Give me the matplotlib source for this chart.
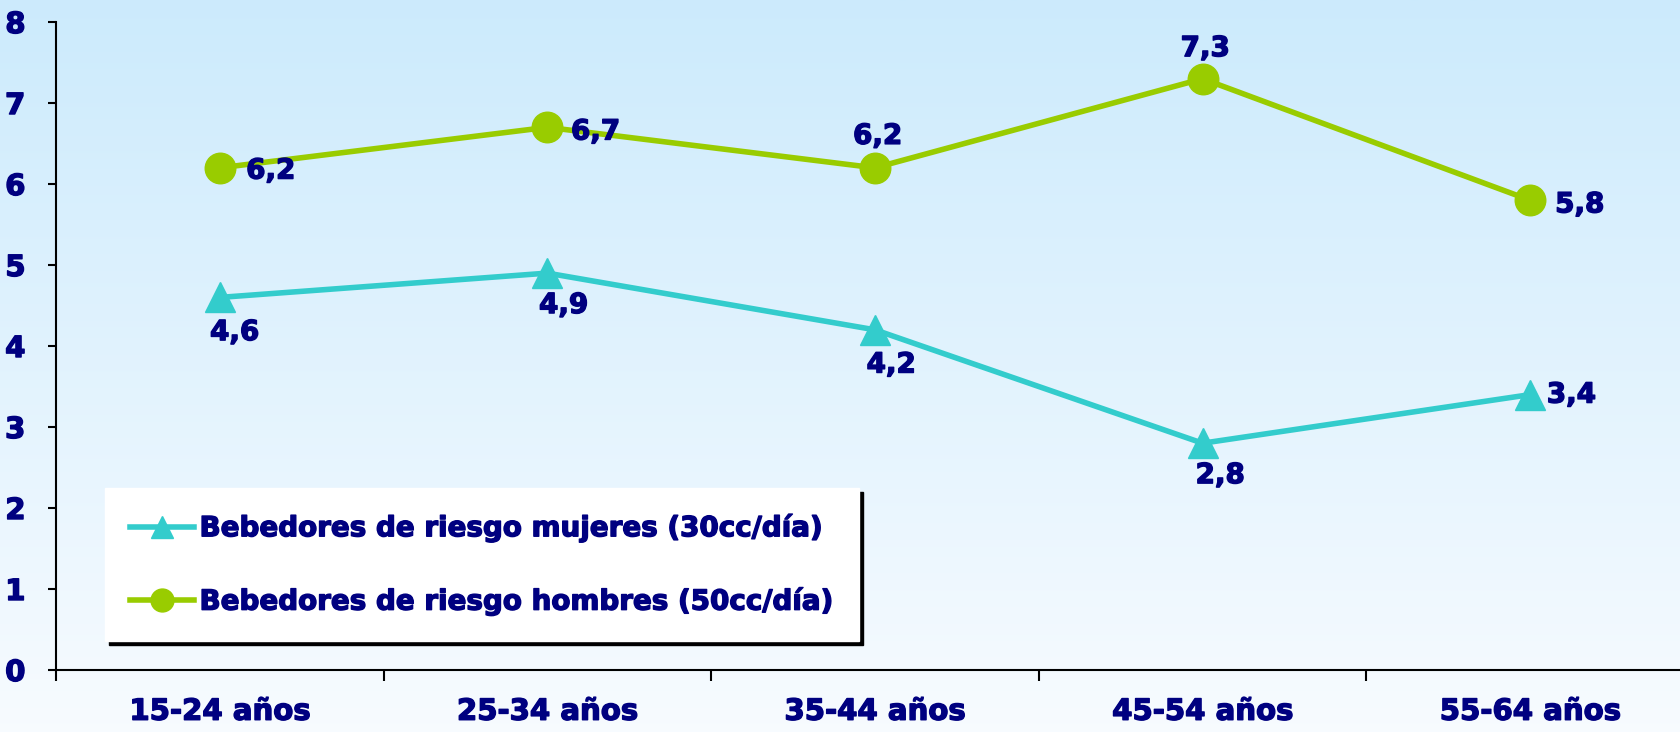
import matplotlib
matplotlib.use('Agg')
import matplotlib.pyplot as plt
import matplotlib.patheffects as pe
import numpy as np

plt.rcParams.update({
    'font.family': 'DejaVu Sans',
    'font.weight': 'bold',
})

# -- Data --
categories = ['15-24 años', '25-34 años', '35-44 años', '45-54 años', '55-64 años']
mujeres = [4.6, 4.9, 4.2, 2.8, 3.4]
hombres = [6.2, 6.7, 6.2, 7.3, 5.8]
label_mujeres = 'Bebedores de riesgo mujeres (30cc/día)'
label_hombres = 'Bebedores de riesgo hombres (50cc/día)'

NAVY = '#000080'
TEAL = '#33CCCC'
GREEN = '#99CC00'
THICK = [pe.withStroke(linewidth=1.0, foreground=NAVY)]

fig = plt.figure(figsize=(16.81, 7.32), dpi=100)

# gradient background
bg = fig.add_axes([0, 0, 1, 1], zorder=-10)
grad = np.linspace(0, 1, 256).reshape(-1, 1)
top = np.array([0.80, 0.92, 0.99])
bot = np.array([0.97, 0.985, 1.0])
img = top[None, None, :] * (1 - grad[:, :, None]) + bot[None, None, :] * grad[:, :, None]
bg.imshow(img, aspect='auto', extent=[0, 1, 0, 1])
bg.axis('off')

ax = fig.add_axes([0.0333, 0.0847, 0.9744, 0.8852])
ax.set_facecolor('none')

x = np.arange(1, len(categories) + 1)
ax.plot(x, mujeres, color=TEAL, lw=4.0, marker='^', markersize=21,
        label=label_mujeres, zorder=3)
ax.plot(x, hombres, color=GREEN, lw=4.0, marker='o', markersize=22,
        label=label_hombres, zorder=3)

# value labels (offsets in points)
muj_off = [(-7, -25, 'left'), (-6, -23, 'left'), (-6, -25, 'left'),
           (-5, -23, 'left'), (12, 0, 'left')]
hom_off = [(19, -2, 'left'), (17, -3, 'left'), (2, 23, 'center'),
           (2, 22, 'center'), (18, -3, 'left')]
for xi, v, (dx, dy, ha) in zip(x, mujeres, muj_off):
    ax.annotate(f'{v:.1f}'.replace('.', ','), (xi, v), xytext=(dx, dy),
                textcoords='offset points', ha=ha, va='center',
                fontsize=20, color=NAVY, fontweight='bold', path_effects=THICK)
for xi, v, (dx, dy, ha) in zip(x, hombres, hom_off):
    ax.annotate(f'{v:.1f}'.replace('.', ','), (xi, v), xytext=(dx, dy),
                textcoords='offset points', ha=ha, va='center',
                fontsize=20, color=NAVY, fontweight='bold', path_effects=THICK)

ax.set_xlim(0.5, len(categories) + 0.5)
ax.set_ylim(0, 8)
ax.set_yticks(range(0, 9))
ax.set_xticks(np.arange(0.5, len(categories) + 1, 1.0))
ax.set_xticklabels([])
ax.set_xticks(x, minor=True)
ax.set_xticklabels(categories, minor=True)
ax.tick_params(axis='x', which='major', direction='out', length=8, width=1.5)
ax.tick_params(axis='x', which='minor', length=0, pad=20, labelsize=21,
               labelcolor=NAVY)
ax.tick_params(axis='y', direction='out', length=6, width=1.5, pad=16,
               labelsize=21, labelcolor=NAVY)
for t in ax.get_yticklabels() + ax.get_xticklabels(minor=True):
    t.set_path_effects(THICK)
for s in ['top', 'right']:
    ax.spines[s].set_visible(False)
for s in ['left', 'bottom']:
    ax.spines[s].set_linewidth(1.5)
    ax.spines[s].set_color('black')
ax.spines['left'].set_bounds(0, 8)

leg = ax.legend(loc='upper left', bbox_to_anchor=(0.0625, 0.333),
                bbox_transform=fig.transFigure, borderaxespad=0,
                frameon=True, fancybox=False, framealpha=1,
                shadow={'color': 'black', 'alpha': 1, 'ox': 3, 'oy': -3},
                prop={'weight': 'bold', 'size': 20},
                handlelength=2.3, handletextpad=0.2, labelspacing=1.6,
                borderpad=0.9, markerscale=0.75)
leg.get_frame().set_edgecolor('white')
leg.get_frame().set_facecolor('white')
for t in leg.get_texts():
    t.set_color(NAVY)
    t.set_path_effects(THICK)

fig.savefig('out.png', dpi=100)
